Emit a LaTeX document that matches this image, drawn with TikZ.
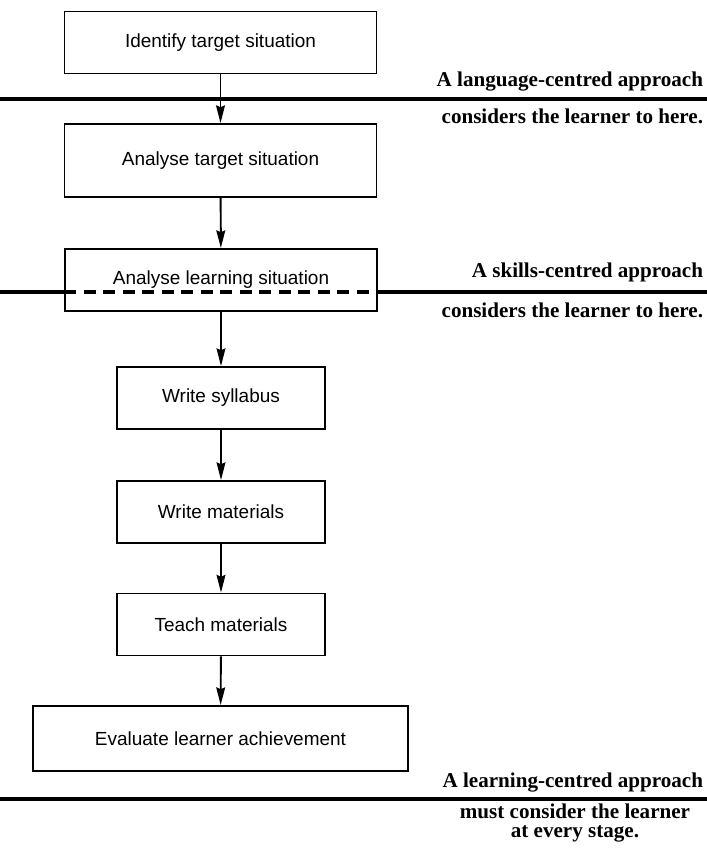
\documentclass[tikz,border=0pt]{standalone}
\usepackage{fontspec}
\setmainfont{Liberation Serif}
\setsansfont{Liberation Sans}
\usetikzlibrary{arrows.meta}
\begin{document}
\begin{tikzpicture}[>={Stealth[length=10pt,width=5pt,inset=1pt]}, line width=1.1pt,
  stage/.style={draw, minimum height=1.24cm, font=\sffamily\fontsize{10.8}{13}\selectfont},
  note/.style={anchor=east, inner sep=0pt, font=\bfseries\fontsize{12}{10.5}\selectfont},
  bar/.style={line width=2pt}]
\useasboundingbox (0,0) rectangle (14.14,16.96);
\node[stage, minimum width=6.24cm] (s1) at (4.41,16.11) {Identify target situation};
\node[stage, minimum width=6.24cm, minimum height=1.46cm] (s2) at (4.41,13.75) {Analyse target situation};
\node[stage, minimum width=6.24cm] (s3) at (4.42,11.36) {Analyse learning situation};
\node[stage, minimum width=4.16cm] (s4) at (4.42,9.0) {Write syllabus};
\node[stage, minimum width=4.16cm] (s5) at (4.42,6.72) {Write materials};
\node[stage, minimum width=4.16cm] (s6) at (4.42,4.47) {Teach materials};
\node[stage, minimum width=7.5cm, minimum height=1.3cm] (s7) at (4.41,2.19) {Evaluate learner achievement};
\foreach \a/\b in {s1/s2, s2/s3, s3/s4, s4/s5, s5/s6, s6/s7}
  \draw[->] (\a) -- (\b);
\coordinate (a0) at (0,14.98);
\coordinate (a1) at (14.14,14.98);
\coordinate (b0) at (0,11.12);
\coordinate (b1) at (14.14,11.12);
\coordinate (c0) at (0,0.98);
\coordinate (c1) at (14.14,0.98);
\draw[bar] (a0) -- (a1);
\draw[bar] (b0) -- (b0 -| s3.west);
\draw[bar, dash pattern=on 0.24cm off 0.15cm] (b0 -| s3.west) -- (b0 -| s3.east);
\draw[bar] (b0 -| s3.east) -- (b1);
\draw[bar] (c0) -- (c1);
\node[note] (n1) at (14.08,15.32) {A language-centred approach};
\node[note] (n2) at (14.08,14.64) {considers the learner to here.};
\node[note] (n3) at (14.08,11.52) {A skills-centred approach};
\node[note] (n4) at (14.08,10.76) {considers the learner to here.};
\node[note] (n5) at (14.08,1.3) {A learning-centred approach};
\node[note, anchor=center, align=center] (n6) at (11.5,0.5) {must consider the learner\\at every stage.};
\end{tikzpicture}
\end{document}
